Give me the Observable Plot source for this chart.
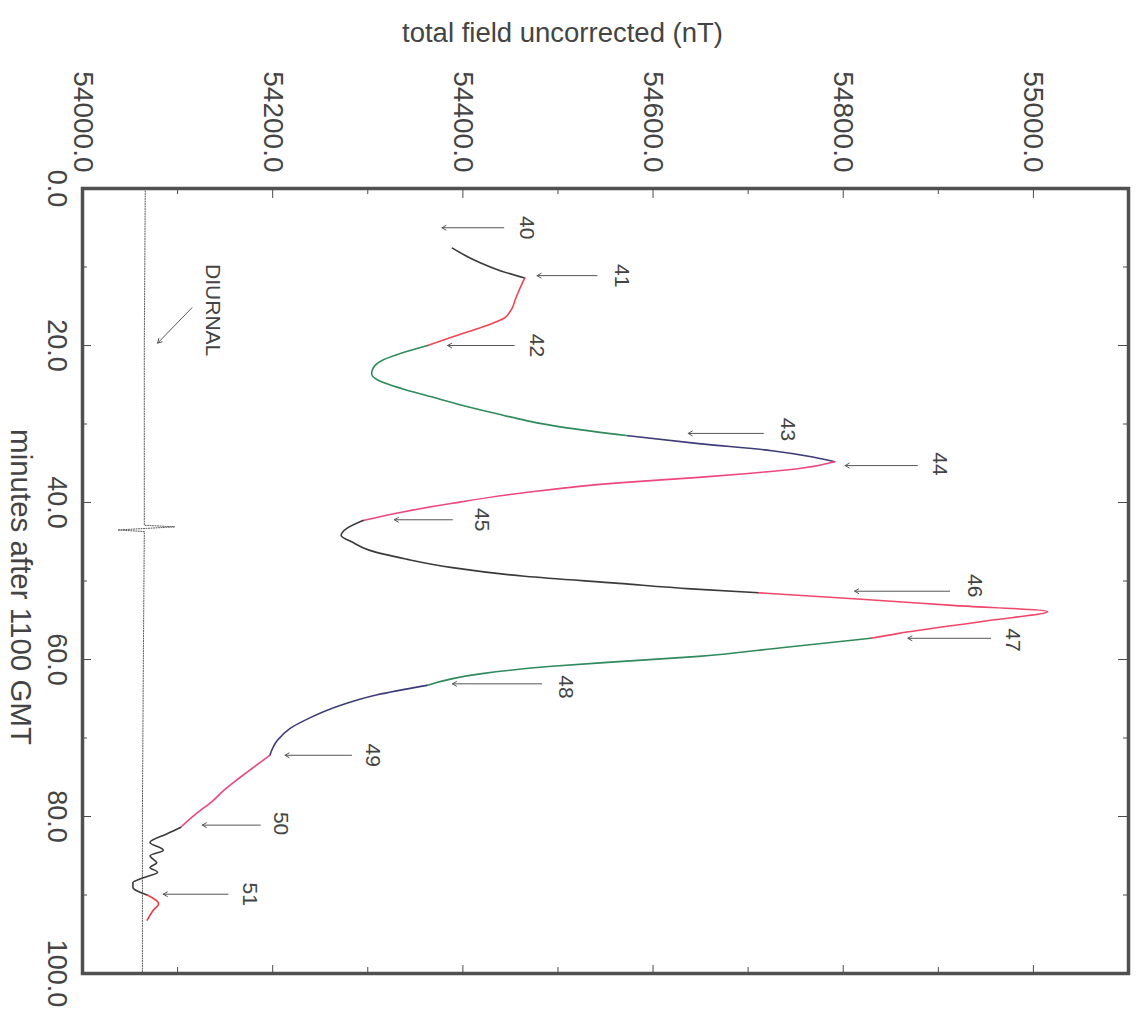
<!DOCTYPE html>
<html>
<head>
<meta charset="utf-8">
<script src="https://cdn.jsdelivr.net/npm/d3@7"></script>
<script src="https://cdn.jsdelivr.net/npm/@observablehq/plot@0.6"></script>
<style>
  html, body { margin: 0; padding: 0; background: #fff; }
  #chart svg { display: block; font-family: "Liberation Sans", Arial, sans-serif; }
</style>
</head>
<body>
<div id="chart"></div>
<script>
// ---- data: [minutes after 1100 GMT, total field nT] ----
const seg40_41 = [[7.6,54389],[8.5,54402],[9.4,54417],[10.5,54440],[11.4,54465]];
const seg41_42 = [[11.4,54465],[13.0,54459],[14.2,54455],[15.2,54452],[15.8,54449],[16.4,54445],[17.8,54417],[18.5,54399],[20.0,54363]];
const seg42_43 = [[20.0,54363],[21.0,54335],[21.9,54315],[22.8,54306],[23.6,54304],[24.5,54312],[25.5,54336],[26.5,54366],[27.6,54399],[28.7,54436],[29.6,54468],[30.4,54504],[31.5,54574]];
const seg43_44 = [[31.5,54574],[32.5,54648],[33.4,54725],[34.2,54768],[34.8,54791]];
const seg44_45 = [[34.8,54791],[35.7,54752],[36.3,54700],[36.8,54648],[37.5,54564],[38.7,54468],[40.1,54389],[41.2,54337],[42.3,54295]];
const seg45_46 = [[42.3,54295],[43.3,54278],[44.2,54272],[45.0,54283],[46.1,54302],[47.2,54340],[48.3,54389],[49.4,54465],[50.3,54564],[51.0,54640],[51.5,54711]];
const seg46_47 = [[51.5,54711],[52.3,54815],[53.1,54915],[53.9,55015],[55.0,54955],[56.7,54857],[57.3,54829]];
const seg47_48 = [[57.3,54829],[58.5,54735],[59.6,54648],[60.3,54560],[60.9,54490],[61.8,54420],[63.3,54362]];
const seg48_49 = [[63.3,54362],[64.5,54310],[65.9,54270],[67.5,54238],[68.8,54218],[70.3,54205],[72.2,54197]];
const seg49_50 = [[72.2,54197],[75.0,54166],[76.5,54150],[78.0,54137],[79.8,54118],[81.4,54103]];
const seg50_51 = [[81.4,54103],[82.2,54089],[83.3,54071],[84.3,54085],[85.0,54071],[85.9,54078],[86.5,54071],[87.1,54079],[87.8,54064],[88.4,54053],[89.0,54053],[90.0,54068]];
const seg51_end = [[90.0,54068],[91.1,54080],[92.0,54074],[93.2,54068]];

const segments = [seg40_41, seg41_42, seg42_43, seg43_44, seg44_45, seg45_46, seg46_47, seg47_48, seg48_49, seg49_50, seg50_51, seg51_end];
const segColors = ["#3a3a3a", "#f04652", "#2f8a5c", "#3c3c78", "#ee4681", "#3a3a3a", "#f0466a", "#2f8a5c", "#3c3c78", "#ee4681", "#3a3a3a", "#f03a42"];

const diurnal = [[0,54066],[20,54065],[42.9,54065],[43.1,54097],[43.3,54067],[43.5,54037],[43.7,54065],[60,54064],[80,54063],[100,54063]];

// stations: label, minute of arrow, arrow head field, arrow tail field, label field, label minute
const stationLabels = ["40","41","42","43","44","45","46","47","48","49","50","51"];
const stationMinute = [5.0, 11.1, 20.0, 31.2, 35.3, 42.2, 51.3, 57.3, 63.1, 72.2, 81.1, 89.9];
const arrowHead = [54378, 54478, 54384, 54637, 54802, 54328, 54812, 54868, 54389, 54213, 54126, 54085];
const arrowTail = [54443, 54541, 54454, 54716, 54878, 54389, 54912, 54955, 54483, 54283, 54187, 54153];
const labelField = [54467, 54567, 54478, 54742, 54901, 54420, 54938, 54978, 54508, 54305, 54208, 54176];
const labelMinute = [5.0, 11.1, 20.0, 30.7, 35.1, 42.2, 50.6, 57.5, 63.5, 72.2, 80.9, 89.9];

const xTicks = [54000, 54200, 54400, 54600, 54800, 55000];
const xMinor = [54100, 54300, 54500, 54700, 54900, 55100];
const yTicks = [0, 20, 40, 60, 80, 100];
const yMinor = [10, 30, 50, 70, 90];

// ---- build tables ----
const linePts = segments.flatMap((s, i) => s.map(([m, f]) => ({m, f, seg: i})));
const diurnalPts = diurnal.map(([m, f]) => ({m, f}));
const stations = stationLabels.map((label, i) => ({
  label, m: stationMinute[i], head: arrowHead[i], tail: arrowTail[i], lx: labelField[i], lm: labelMinute[i]
}));

const W = 1136, H = 1014;
const mL = 82, mR = 8, mT = 188, mB = 41;
const innerW = W - mL - mR, innerH = H - mT - mB;
const ink = "#4a4a4a";

const chart = Plot.plot({
  width: W, height: H,
  marginLeft: mL, marginRight: mR, marginTop: mT, marginBottom: mB,
  style: {fontFamily: "Liberation Sans, Arial, sans-serif", background: "#fff", color: ink},
  x: {domain: [54000, 55100]},
  y: {domain: [0, 100], reverse: true},
  color: {type: "ordinal", domain: d3.range(segments.length), range: segColors},
  marks: [
    // inward ticks on all four sides
    Plot.tickX(xTicks.slice(1), {x: d => d, stroke: ink, insetBottom: innerH - 10}),
    Plot.tickX(xMinor, {x: d => d, stroke: ink, insetBottom: innerH - 6}),
    Plot.tickX(xTicks.slice(1), {x: d => d, stroke: ink, insetTop: innerH - 8}),
    Plot.tickX(xMinor, {x: d => d, stroke: ink, insetTop: innerH - 6}),
    Plot.tickY(yTicks.slice(1, -1), {y: d => d, stroke: ink, insetRight: innerW - 9}),
    Plot.tickY(yMinor, {y: d => d, stroke: ink, insetRight: innerW - 5}),
    Plot.tickY(yTicks.slice(1, -1), {y: d => d, stroke: ink, insetLeft: innerW - 10}),
    Plot.tickY(yMinor, {y: d => d, stroke: ink, insetLeft: innerW - 5}),
    Plot.frame({stroke: "#505050", strokeWidth: 3.5}),
    // axes with rotated labels
    Plot.axisX({anchor: "top", ticks: xTicks, tickFormat: d => d.toFixed(1), tickSize: 0, tickPadding: 16,
      tickRotate: 90, textAnchor: "end", lineAnchor: "middle", fontSize: 28, fill: "#444", label: null}),
    Plot.axisY({anchor: "left", ticks: yTicks, tickFormat: d => d.toFixed(1), tickSize: 0, tickPadding: 15,
      tickRotate: 90, textAnchor: "middle", lineAnchor: "top", fontSize: 27, fill: "#444", label: null}),
    Plot.text(["total field uncorrected (nT)"], {text: d => d, frameAnchor: "top", textAnchor: "middle", dx: -43, dy: -166, fontSize: 27.5, fill: "#444"}),
    Plot.text(["minutes after 1100 GMT"], {text: d => d, frameAnchor: "left", textAnchor: "middle", lineAnchor: "middle", dx: -62, dy: 6, rotate: 90, fontSize: 29.5, fill: "#444"}),
    // diurnal
    Plot.line(diurnalPts, {x: "f", y: "m", stroke: "#555", strokeWidth: 1, strokeDasharray: "1,1.5", curve: "linear"}),
    Plot.text(["DIURNAL"], {text: d => d, x: 54137, y: 15.5, rotate: 90, fontSize: 21, fill: "#444"}),
    Plot.arrow([{x1: 54115, y1: 15.2, x2: 54079, y2: 19.7}], {x1: "x1", y1: "y1", x2: "x2", y2: "y2", stroke: "#555", strokeWidth: 1, headLength: 7}),
    // main profile
    Plot.line(linePts, {x: "f", y: "m", z: "seg", stroke: "seg", strokeWidth: 1.6, curve: "monotone-y"}),
    // station arrows and labels
    Plot.arrow(stations, {x1: "tail", x2: "head", y1: "m", y2: "m", stroke: "#555", strokeWidth: 1, headLength: 7}),
    Plot.text(stations, {x: "lx", y: "lm", text: "label", rotate: 90, fontSize: 21, fill: "#444"})
  ]
});
document.getElementById("chart").appendChild(chart);
</script>
</body>
</html>
